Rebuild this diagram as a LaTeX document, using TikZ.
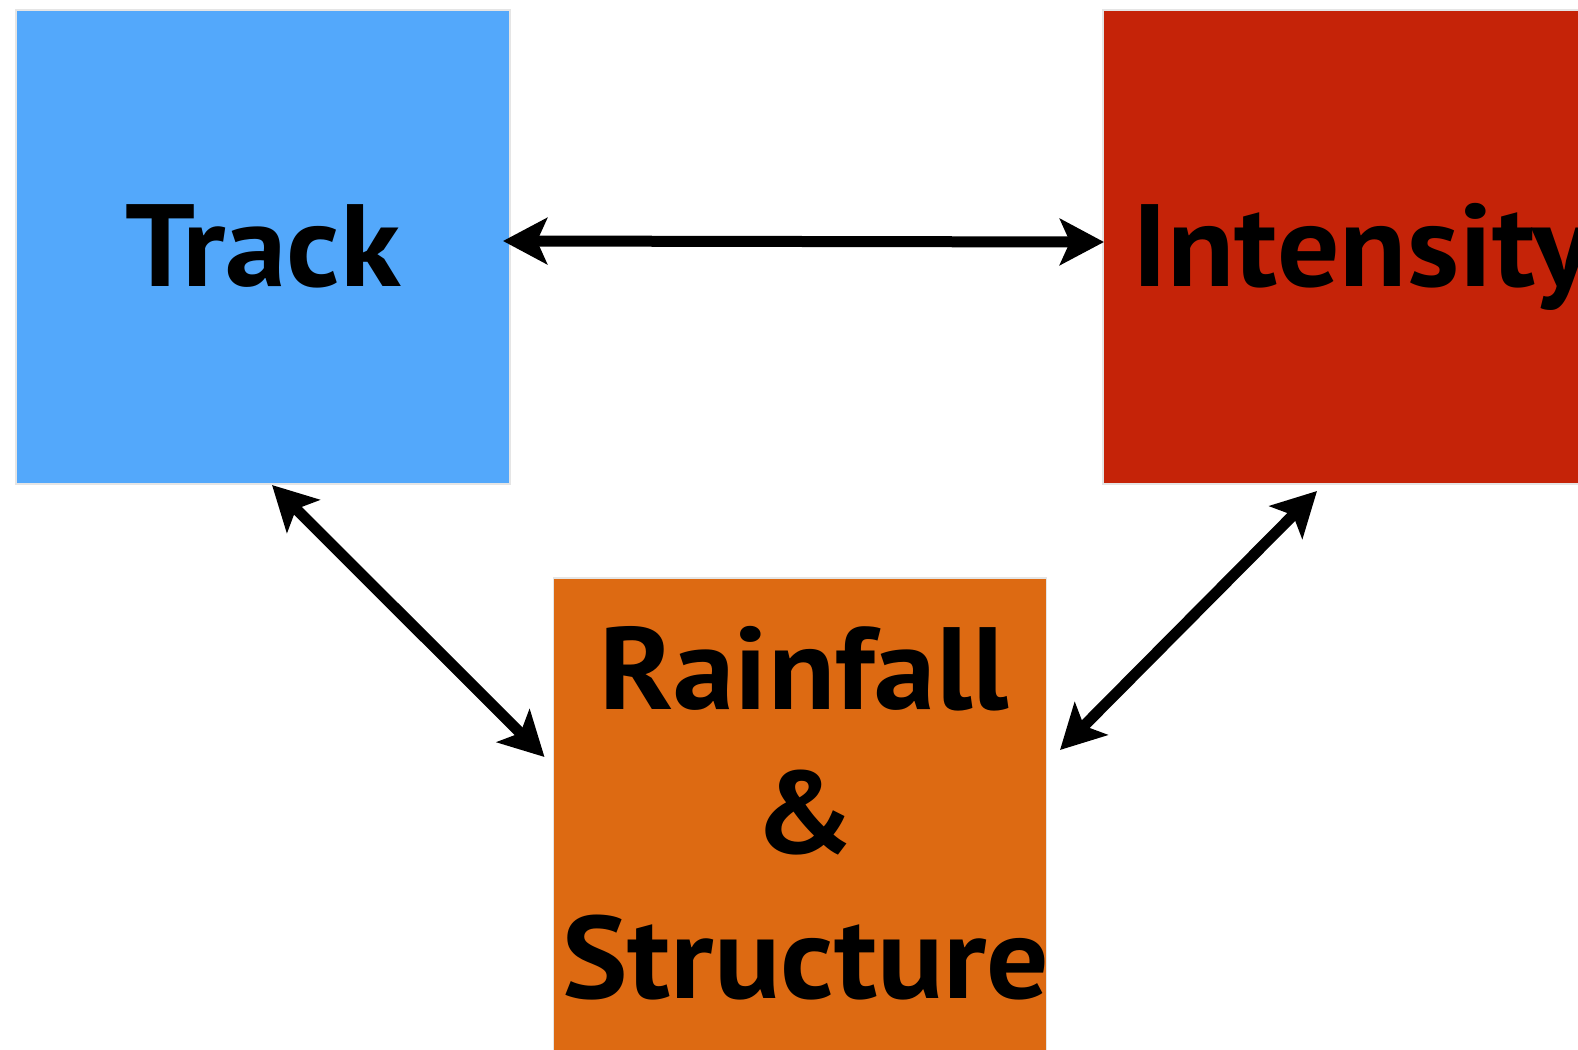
\documentclass[tikz,border=0pt]{standalone}
\usepackage{fontspec}
\setmainfont[FakeStretch=1.055]{PT Sans}
\usetikzlibrary{arrows.meta}
\definecolor{trackblue}{RGB}{83,168,251}
\definecolor{intred}{RGB}{197,35,8}
\definecolor{rainorange}{RGB}{221,106,18}
\tikzset{
  box/.style={minimum width=494pt, minimum height=474pt, inner sep=0pt, outer sep=0pt, draw=black!10, line width=1.5pt},
  lbl/.style={anchor=base, inner sep=0pt, font=\fontsize{117}{144}\selectfont\bfseries},
  link/.style={line width=11pt, {Stealth[length=44pt,width=46pt,inset=10pt]}-{Stealth[length=44pt,width=46pt,inset=10pt]}}
}
\begin{document}
\begin{tikzpicture}[x=1pt,y=-1pt]
\useasboundingbox (0,0) rectangle (1578,1049);
\clip (0,0) rectangle (1578,1049);
\node[box, fill=trackblue] (track) at (263,247) {};
\node[box, fill=intred] (intensity) at (1350,247) {};
\node[box, fill=rainorange, minimum width=493pt] (rain) at (800,815) {};
\node[lbl] (tracklbl) at (263,286) {Track};
\node[lbl, anchor=base west] (intlbl) at (1132,286) {Intensity};
\node[lbl] (rain1) at (804,709.5) {Rainfall};
\node[lbl] (rain2) at (805,853.4) {\&};
\node[lbl] (rain3) at (806,998.3) {Structure};
\draw[link] ([xshift=-7pt,yshift=6pt]track.east) -- ([xshift=1pt,yshift=5pt]intensity.west);
\draw[link] ([xshift=256pt,yshift=-1pt]track.south west) -- ([xshift=-9pt,yshift=58pt]rain.west);
\draw[link] ([xshift=-33pt,yshift=-7pt]intensity.south) -- ([xshift=13.5pt,yshift=65pt]rain.east);
\end{tikzpicture}
\end{document}
